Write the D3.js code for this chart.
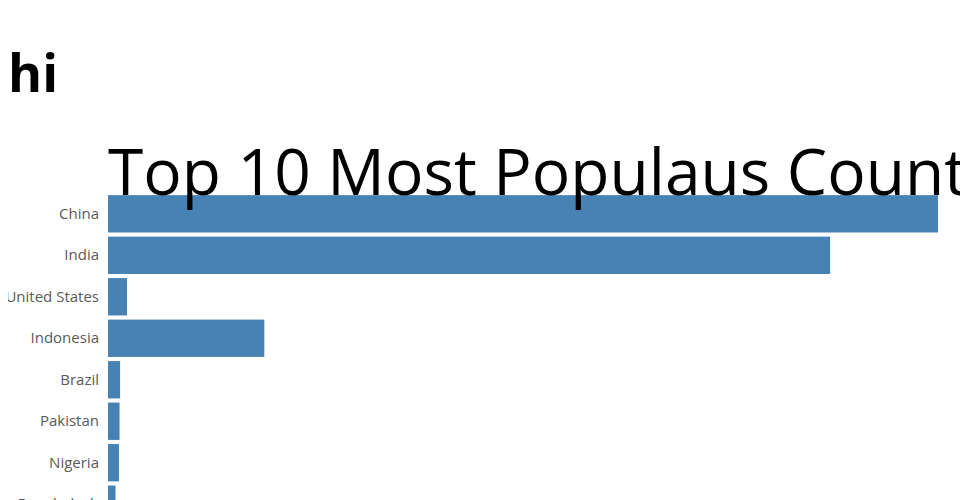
<!DOCTYPE html>
<html>
<head>
<meta charset="utf-8">
<script src="https://cdn.jsdelivr.net/npm/d3@7"></script>
<style>
  body { margin: 8px; font-family: "Open Sans", sans-serif; overflow: hidden; }
  h1 { font-size: 52px; font-weight: 700; margin: 28px 0 0 0; line-height: normal; }
  #chart { position: absolute; top: 0; left: 8px; }
  .axis text { font-family: "Open Sans", sans-serif; font-size: 15px; fill: #5a5a5a; }
</style>
</head>
<body>
<h1>hi</h1>
<div id="chart"></div>
<script>
// values (millions)
const countries = ["China", "India", "United States", "Indonesia", "Brazil",
  "Pakistan", "Nigeria", "Bangladesh", "Russia", "Mexico"];
const population = [1439, 1252, 33, 271, 21, 20, 19, 13, 12, 11];

const data = countries.map((c, i) => ({country: c, value: population[i]}));

const margin = {top: 191, right: 30, bottom: 20, left: 100};
const width = 830;
const height = 419;

const svg = d3.select("#chart").append("svg")
    .attr("width", margin.left + width + margin.right)
    .attr("height", margin.top + height + margin.bottom)
  .append("g")
    .attr("transform", "translate(" + margin.left + "," + margin.top + ")");

const x = d3.scaleLinear()
    .domain([0, d3.max(data, d => d.value)])
    .range([0, width]);

const y = d3.scaleBand()
    .domain(countries)
    .range([0, height])
    .padding(0.1);

svg.selectAll(".bar")
    .data(data)
  .enter().append("rect")
    .attr("class", "bar")
    .attr("x", 0)
    .attr("y", d => y(d.country))
    .attr("width", d => x(d.value))
    .attr("height", y.bandwidth())
    .attr("fill", "steelblue");

const axis = svg.append("g")
    .attr("class", "axis")
    .call(d3.axisLeft(y));
axis.select(".domain").remove();
axis.selectAll(".tick line").attr("stroke", "none");

svg.append("text")
    .attr("x", 0)
    .attr("y", 4)
    .attr("font-family", "Open Sans, sans-serif")
    .attr("font-size", 64)
    .attr("fill", "#000")
    .text("Top 10 Most Populaus Countries");
</script>
</body>
</html>
